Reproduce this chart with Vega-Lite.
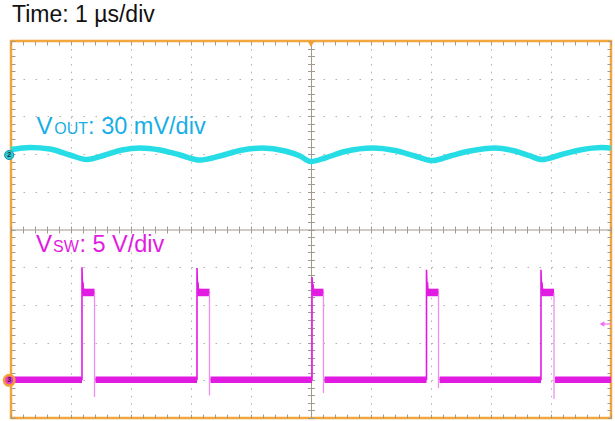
{
  "$schema": "https://vega.github.io/schema/vega-lite/v6.json",
  "width": 600,
  "height": 377,
  "autosize": {"type": "none"},
  "padding": {"left": 11, "top": 41, "right": 4, "bottom": 3},
  "title": {"text": "Time: 1 µs/div", "anchor": "start", "frame": "group", "font": "Liberation Sans", "fontSize": 23, "fontWeight": "normal", "color": "#111111", "offset": 14, "dx": 1},
  "config": {
    "view": {"stroke": "#f3a73b", "strokeWidth": 2.5},
    "axis": {"labels": false, "domain": false, "ticks": false, "grid": false, "tickColor": "#a09a90", "tickWidth": 1, "domainColor": "#a09a90", "domainWidth": 1, "gridColor": "#b0b0b0", "gridWidth": 1}
  },
  "layer": [
    {
      "data": {"values": [
        {"t1": 0, "t2": 1.183, "v1": 0.93, "v2": 1.1},
        {"t1": 1.408, "t2": 3.1, "v1": 0.93, "v2": 1.1},
        {"t1": 3.325, "t2": 5.017, "v1": 0.93, "v2": 1.1},
        {"t1": 5.225, "t2": 6.925, "v1": 0.93, "v2": 1.1},
        {"t1": 7.142, "t2": 8.833, "v1": 0.93, "v2": 1.1},
        {"t1": 9.067, "t2": 10, "v1": 0.93, "v2": 1.1},
        {"t1": 1.19, "t2": 1.392, "v1": 3.23, "v2": 3.43},
        {"t1": 3.107, "t2": 3.308, "v1": 3.23, "v2": 3.43},
        {"t1": 5.024, "t2": 5.208, "v1": 3.23, "v2": 3.43},
        {"t1": 6.932, "t2": 7.125, "v1": 3.23, "v2": 3.43},
        {"t1": 8.84, "t2": 9.05, "v1": 3.23, "v2": 3.43}
      ]},
      "mark": {"type": "rect", "color": "#e21be2"},
      "encoding": {
        "x": {"field": "t1", "type": "quantitative", "scale": {"domain": [0, 10], "nice": false, "zero": false},
              "axis": {"orient": "bottom", "title": null, "grid": true, "values": [1, 2, 3, 4, 6, 7, 8, 9], "gridDash": [1.5, 6.04]}},
        "x2": {"field": "t2"},
        "y": {"field": "v1", "type": "quantitative", "scale": {"domain": [0, 10], "nice": false, "zero": false},
              "axis": {"orient": "left", "title": null, "grid": true, "values": [1, 2, 3, 4, 6, 7, 8, 9], "gridDash": [1.5, 10.5]}},
        "y2": {"field": "v2"}
      }
    },
    {
      "data": {"values": [
        {"t": 1.392, "v1": 3.33, "v2": 0.557},
        {"t": 3.308, "v1": 3.33, "v2": 0.6},
        {"t": 5.208, "v1": 3.33, "v2": 0.663},
        {"t": 7.125, "v1": 3.33, "v2": 0.796},
        {"t": 9.05, "v1": 3.33, "v2": 0.504}
      ]},
      "mark": {"type": "rule", "color": "#f08ef0", "strokeWidth": 1.3},
      "encoding": {
        "x": {"field": "t", "type": "quantitative", "axis": {"orient": "top", "offset": -377, "title": null, "ticks": true, "tickCount": 50, "tickSize": 4}},
        "y": {"field": "v1", "type": "quantitative", "axis": {"orient": "right", "offset": -600, "title": null, "ticks": true, "tickCount": 50, "tickSize": 4}},
        "y2": {"field": "v2"}
      }
    },
    {
      "data": {"values": [
        {"c": 0, "t": 0, "v": 1.02}, {"c": 0, "t": 1.183, "v": 1.02}, {"c": 0, "t": 1.183, "v": 4.0}, {"c": 0, "t": 1.192, "v": 3.45}, {"c": 0, "t": 1.2, "v": 3.6}, {"c": 0, "t": 1.21, "v": 3.28}, {"c": 0, "t": 1.22, "v": 3.42}, {"c": 0, "t": 1.24, "v": 3.3}, {"c": 0, "t": 1.392, "v": 3.33},
        {"c": 1, "t": 1.408, "v": 1.02}, {"c": 1, "t": 3.1, "v": 1.02}, {"c": 1, "t": 3.1, "v": 3.98}, {"c": 1, "t": 3.109, "v": 3.45}, {"c": 1, "t": 3.117, "v": 3.6}, {"c": 1, "t": 3.127, "v": 3.28}, {"c": 1, "t": 3.137, "v": 3.42}, {"c": 1, "t": 3.157, "v": 3.3}, {"c": 1, "t": 3.308, "v": 3.33},
        {"c": 2, "t": 3.325, "v": 1.02}, {"c": 2, "t": 5.017, "v": 1.02}, {"c": 2, "t": 5.017, "v": 3.74}, {"c": 2, "t": 5.026, "v": 3.42}, {"c": 2, "t": 5.034, "v": 3.55}, {"c": 2, "t": 5.044, "v": 3.28}, {"c": 2, "t": 5.054, "v": 3.4}, {"c": 2, "t": 5.074, "v": 3.3}, {"c": 2, "t": 5.208, "v": 3.33},
        {"c": 3, "t": 5.225, "v": 1.02}, {"c": 3, "t": 6.925, "v": 1.02}, {"c": 3, "t": 6.925, "v": 3.93}, {"c": 3, "t": 6.934, "v": 3.45}, {"c": 3, "t": 6.942, "v": 3.6}, {"c": 3, "t": 6.952, "v": 3.28}, {"c": 3, "t": 6.962, "v": 3.42}, {"c": 3, "t": 6.982, "v": 3.3}, {"c": 3, "t": 7.125, "v": 3.33},
        {"c": 4, "t": 7.142, "v": 1.02}, {"c": 4, "t": 8.833, "v": 1.02}, {"c": 4, "t": 8.833, "v": 3.93}, {"c": 4, "t": 8.842, "v": 3.45}, {"c": 4, "t": 8.85, "v": 3.6}, {"c": 4, "t": 8.86, "v": 3.28}, {"c": 4, "t": 8.87, "v": 3.42}, {"c": 4, "t": 8.89, "v": 3.3}, {"c": 4, "t": 9.05, "v": 3.33},
        {"c": 5, "t": 9.067, "v": 1.02}, {"c": 5, "t": 10, "v": 1.02}
      ]},
      "mark": {"type": "line", "color": "#e21be2", "strokeWidth": 1.6},
      "encoding": {
        "x": {"field": "t", "type": "quantitative", "axis": {"orient": "bottom", "offset": -377, "title": null, "ticks": true, "tickCount": 50, "tickSize": 4}},
        "y": {"field": "v", "type": "quantitative", "axis": {"orient": "left", "offset": -600, "title": null, "ticks": true, "tickCount": 50, "tickSize": 4}},
        "detail": {"field": "c", "type": "nominal"},
        "order": {"field": "t", "type": "quantitative"}
      }
    },
    {
      "data": {"values": [
        {"t": 0, "v": 7.12}, {"t": 0.317, "v": 7.175}, {"t": 0.65, "v": 7.135}, {"t": 0.983, "v": 6.976}, {"t": 1.267, "v": 6.857},
        {"t": 1.567, "v": 6.976}, {"t": 1.85, "v": 7.109}, {"t": 2.15, "v": 7.162}, {"t": 2.483, "v": 7.109}, {"t": 2.817, "v": 6.976},
        {"t": 3.15, "v": 6.844}, {"t": 3.483, "v": 6.95}, {"t": 3.817, "v": 7.095}, {"t": 4.183, "v": 7.162}, {"t": 4.567, "v": 7.082},
        {"t": 4.817, "v": 6.95}, {"t": 5.0, "v": 6.804}, {"t": 5.233, "v": 6.897}, {"t": 5.567, "v": 7.069}, {"t": 6.033, "v": 7.162},
        {"t": 6.4, "v": 7.095}, {"t": 6.733, "v": 6.95}, {"t": 7.033, "v": 6.83}, {"t": 7.317, "v": 6.95}, {"t": 7.65, "v": 7.082},
        {"t": 8.067, "v": 7.162}, {"t": 8.4, "v": 7.082}, {"t": 8.65, "v": 6.95}, {"t": 8.85, "v": 6.857}, {"t": 9.15, "v": 6.976},
        {"t": 9.483, "v": 7.109}, {"t": 9.85, "v": 7.175}, {"t": 10.0, "v": 7.162}
      ]},
      "mark": {"type": "line", "color": "#26dde6", "strokeWidth": 5.5, "interpolate": "monotone"},
      "encoding": {
        "x": {"field": "t", "type": "quantitative", "axis": {"orient": "bottom", "offset": -188.5, "title": null, "domain": true, "ticks": true, "tickCount": 50, "tickSize": 3.5}},
        "y": {"field": "v", "type": "quantitative", "axis": {"orient": "left", "offset": -300, "title": null, "domain": true, "ticks": true, "tickCount": 50, "tickSize": 3.5}}
      }
    },
    {
      "data": {"values": [{"t1": 9.85, "t2": 10, "v": 2.493}]},
      "mark": {"type": "rule", "color": "#f070f0", "strokeWidth": 1.2},
      "encoding": {
        "x": {"field": "t1", "type": "quantitative", "axis": {"orient": "top", "offset": -188.5, "title": null, "ticks": true, "tickCount": 50, "tickSize": 3.5}},
        "x2": {"field": "t2"},
        "y": {"field": "v", "type": "quantitative", "axis": {"orient": "right", "offset": -300, "title": null, "ticks": true, "tickCount": 50, "tickSize": 3.5}}
      }
    },
    {
      "data": {"values": [{}]},
      "mark": {"type": "point", "shape": "triangle-left", "filled": true, "size": 30, "color": "#f070f0", "opacity": 1},
      "encoding": {
        "x": {"datum": 9.85, "type": "quantitative", "axis": null},
        "y": {"datum": 2.493, "type": "quantitative", "axis": null}
      }
    },
    {
      "data": {"values": [{}]},
      "mark": {"type": "point", "shape": "triangle-down", "filled": true, "size": 45, "color": "#f0a030", "opacity": 1},
      "encoding": {
        "x": {"datum": 5, "type": "quantitative", "axis": null},
        "y": {"datum": 9.92, "type": "quantitative", "axis": null}
      }
    },
    {
      "data": {"values": [{}]},
      "mark": {"type": "point", "shape": "circle", "filled": true, "size": 85, "fill": "#2fc6d2", "stroke": "#1c98a6", "strokeWidth": 1, "opacity": 1},
      "encoding": {
        "x": {"datum": -0.03, "type": "quantitative", "axis": null},
        "y": {"datum": 6.976, "type": "quantitative", "axis": null}
      }
    },
    {
      "data": {"values": [{}]},
      "mark": {"type": "text", "text": "2", "font": "Liberation Sans", "fontSize": 7, "fontWeight": "bold", "color": "#16343a", "align": "center", "baseline": "middle"},
      "encoding": {
        "x": {"datum": -0.03, "type": "quantitative", "axis": null},
        "y": {"datum": 6.976, "type": "quantitative", "axis": null}
      }
    },
    {
      "data": {"values": [{}]},
      "mark": {"type": "point", "shape": "circle", "filled": true, "size": 110, "fill": "#e63ad0", "stroke": "#f5a030", "strokeWidth": 2.5, "opacity": 1},
      "encoding": {
        "x": {"datum": -0.03, "type": "quantitative", "axis": null},
        "y": {"datum": 1.0, "type": "quantitative", "axis": null}
      }
    },
    {
      "data": {"values": [{}]},
      "mark": {"type": "text", "text": "3", "font": "Liberation Sans", "fontSize": 7, "fontWeight": "bold", "color": "#3a1030", "align": "center", "baseline": "middle"},
      "encoding": {
        "x": {"datum": -0.03, "type": "quantitative", "axis": null},
        "y": {"datum": 1.0, "type": "quantitative", "axis": null}
      }
    },
    {
      "data": {"values": [{}]},
      "mark": {"type": "text", "text": "V", "font": "Liberation Sans", "fontSize": 24, "color": "#19ade6", "align": "left", "baseline": "alphabetic"},
      "encoding": {
        "x": {"datum": 0.425, "type": "quantitative", "axis": null},
        "y": {"datum": 7.533, "type": "quantitative", "axis": null}
      }
    },
    {
      "data": {"values": [{}]},
      "mark": {"type": "text", "text": "OUT", "font": "Liberation Sans", "fontSize": 16, "color": "#19ade6", "align": "left", "baseline": "alphabetic"},
      "encoding": {
        "x": {"datum": 0.72, "type": "quantitative", "axis": null},
        "y": {"datum": 7.533, "type": "quantitative", "axis": null}
      }
    },
    {
      "data": {"values": [{}]},
      "mark": {"type": "text", "text": ": 30 mV/div", "font": "Liberation Sans", "fontSize": 23.5, "color": "#19ade6", "align": "left", "baseline": "alphabetic"},
      "encoding": {
        "x": {"datum": 1.285, "type": "quantitative", "axis": null},
        "y": {"datum": 7.533, "type": "quantitative", "axis": null}
      }
    },
    {
      "data": {"values": [{}]},
      "mark": {"type": "text", "text": "V", "font": "Liberation Sans", "fontSize": 24, "color": "#e21be2", "align": "left", "baseline": "alphabetic"},
      "encoding": {
        "x": {"datum": 0.417, "type": "quantitative", "axis": null},
        "y": {"datum": 4.395, "type": "quantitative", "axis": null}
      }
    },
    {
      "data": {"values": [{}]},
      "mark": {"type": "text", "text": "SW", "font": "Liberation Sans", "fontSize": 16, "color": "#e21be2", "align": "left", "baseline": "alphabetic"},
      "encoding": {
        "x": {"datum": 0.7, "type": "quantitative", "axis": null},
        "y": {"datum": 4.395, "type": "quantitative", "axis": null}
      }
    },
    {
      "data": {"values": [{}]},
      "mark": {"type": "text", "text": ": 5 V/div", "font": "Liberation Sans", "fontSize": 23.5, "color": "#e21be2", "align": "left", "baseline": "alphabetic"},
      "encoding": {
        "x": {"datum": 1.14, "type": "quantitative", "axis": null},
        "y": {"datum": 4.395, "type": "quantitative", "axis": null}
      }
    }
  ],
  "resolve": {"axis": {"x": "independent", "y": "independent"}}
}
